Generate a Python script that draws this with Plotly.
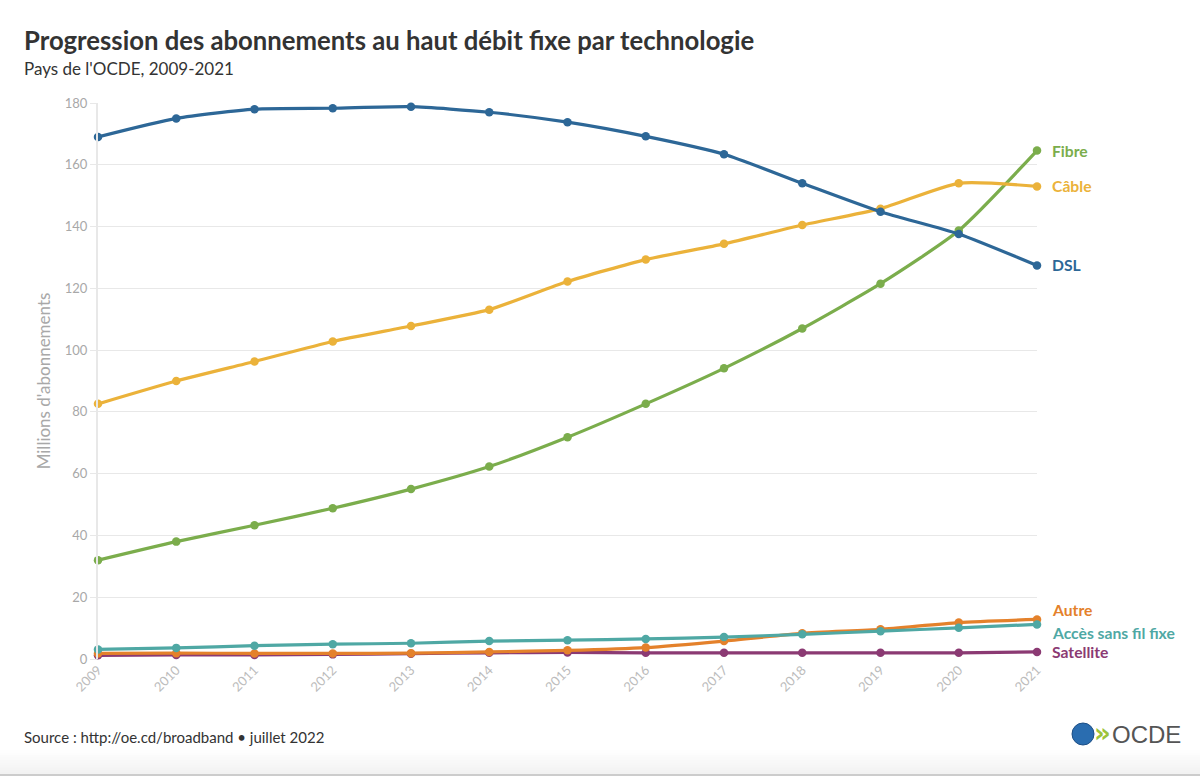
import plotly.graph_objects as go

years = list(range(2009, 2022))

dsl = [169.0, 175.0, 178.0, 178.3, 178.8, 177.0, 173.8, 169.2, 163.4, 154.0, 144.8, 137.6, 127.4]
cable = [82.6, 90.0, 96.3, 102.8, 107.8, 113.1, 122.2, 129.3, 134.4, 140.5, 145.8, 154.0, 153.0]
fibre = [32.0, 38.0, 43.3, 48.8, 55.0, 62.3, 71.8, 82.6, 94.1, 107.0, 121.5, 138.7, 164.6]
sans_fil = [3.1, 3.6, 4.3, 4.8, 5.1, 5.8, 6.1, 6.5, 7.1, 8.0, 9.0, 10.1, 11.2]
autre = [1.8, 1.9, 1.8, 1.8, 1.9, 2.3, 2.8, 3.7, 5.8, 8.3, 9.6, 11.8, 12.8]
satellite = [1.2, 1.3, 1.3, 1.5, 1.7, 2.0, 2.1, 2.0, 2.0, 2.0, 2.0, 2.0, 2.3]

series_names = ["Satellite", "Autre", "Accès sans fil fixe", "Fibre", "Câble", "DSL"]
series_values = [satellite, autre, sans_fil, fibre, cable, dsl]
series_colors = ["#8b3a73", "#e4812b", "#4fa8a4", "#7bad4c", "#ebb23a", "#2d6797"]
label_yshift = [0, 9, -9, 0, 0, 0]

y_ticks = [0, 20, 40, 60, 80, 100, 120, 140, 160, 180]

FONT = "Lato"

fig = go.Figure()
for name, vals, col in zip(series_names, series_values, series_colors):
    fig.add_trace(go.Scatter(
        x=years, y=vals, name=name, mode="lines+markers",
        line=dict(color=col, width=3.2, shape="spline", smoothing=0.6),
        marker=dict(color=col, size=8.5),
        cliponaxis=False, showlegend=False,
    ))

annotations = []
for name, vals, col, ys in zip(series_names, series_values, series_colors, label_yshift):
    annotations.append(dict(
        x=years[-1], y=vals[-1], xref="x", yref="y", text="<b>%s</b>" % name,
        showarrow=False, xanchor="left", yanchor="middle", xshift=13, yshift=ys,
        font=dict(family=FONT, size=15.7, color=col),
    ))

fig.update_layout(
    width=1200, height=776,
    margin=dict(l=98, r=163, t=103, b=117),
    paper_bgcolor="white", plot_bgcolor="white",
    font=dict(family=FONT, color="#333333"),
    xaxis=dict(
        tickmode="array", tickvals=years, ticktext=[str(y) for y in years],
        tickangle=-45, tickfont=dict(size=13, color="#bcbcbc"),
        showgrid=False, zeroline=False, showline=False,
        range=[2009, 2021],
    ),
    yaxis=dict(
        tickmode="array", tickvals=y_ticks, range=[0, 180],
        tickfont=dict(size=13, color="#a8a8a8"),
        showgrid=True, gridcolor="#e8e8e8", gridwidth=1,
        zeroline=False, showline=True, linecolor="#e8e8e8", linewidth=2,
        ticks="outside", ticklen=6, tickcolor="#e8e8e8",
        title=dict(text="Millions d'abonnements", font=dict(size=17, color="#a8a8a8"), standoff=10),
    ),
)

def px_x(x):
    return (x - 98) / (1200 - 98 - 163)

def px_y(y):
    return (776 - 117 - y) / (776 - 103 - 117)

texts = [
    (22, 40, "<b>Progression des abonnements au haut débit fixe par technologie</b>", 25.7, "#333333"),
    (22, 69, "Pays de l'OCDE, 2009-2021", 17, "#333333"),
    (22, 737, "Source : http://oe.cd/broadband • juillet 2022", 15, "#333333"),
]
for x, y, t, s, c in texts:
    annotations.append(dict(x=px_x(x), y=px_y(y), xref="paper", yref="paper", text=t,
                            showarrow=False, xanchor="left", yanchor="middle",
                            font=dict(family=FONT, size=s, color=c)))

# OCDE logo: globe + chevrons + text
annotations.append(dict(x=px_x(1110), y=px_y(734), xref="paper", yref="paper", text="OCDE",
                        showarrow=False, xanchor="left", yanchor="middle",
                        font=dict(family="Liberation Sans", size=24, color="#555555")))
annotations.append(dict(x=px_x(1092), y=px_y(733), xref="paper", yref="paper", text="<b>»</b>",
                        showarrow=False, xanchor="left", yanchor="middle",
                        font=dict(family="DejaVu Sans", size=26, color="#9cc33a")))

shapes = [
    dict(type="circle", xref="paper", yref="paper",
         x0=px_x(1072), x1=px_x(1094), y0=px_y(745), y1=px_y(723),
         fillcolor="#2a6db0", line=dict(color="#1d4f86", width=1)),
]
for i in range(10):
    y0 = 750 + i * 2.5
    shapes.append(dict(type="rect", xref="paper", yref="paper",
                       x0=px_x(0), x1=px_x(1200), y0=px_y(y0 + 2.5), y1=px_y(y0),
                       fillcolor="rgba(200,200,200,%.3f)" % (0.02 + i * 0.025), line=dict(width=0), layer="below"))
shapes.append(dict(type="line", xref="paper", yref="paper", x0=px_x(0), x1=px_x(1200),
                   y0=px_y(775), y1=px_y(775), line=dict(color="#cccccc", width=2)))

fig.update_layout(annotations=annotations, shapes=shapes)

fig.write_html("out.html")
